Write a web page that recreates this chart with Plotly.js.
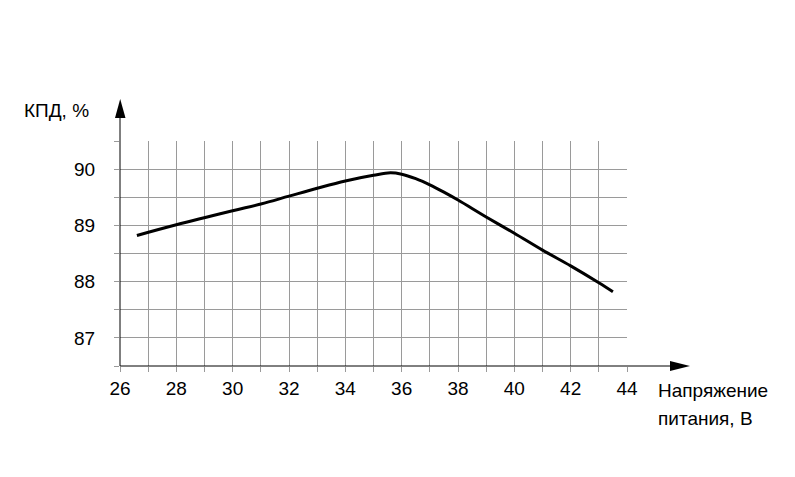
<!DOCTYPE html>
<html><head><meta charset="utf-8">
<script src="https://cdn.plot.ly/plotly-3.0.1.min.js"></script>
<style>body{margin:0;background:#fff}#c{width:795px;height:477px}</style>
</head><body><div id="c"></div>
<script>
const voltage = [26.6, 28, 30, 31, 32, 33, 34, 35, 35.6, 36, 36.5, 37, 37.5, 38, 39, 40, 41, 42, 43, 43.5];
const efficiency = [88.82, 89.01, 89.26, 89.38, 89.52, 89.66, 89.79, 89.89, 89.935, 89.91, 89.83, 89.72, 89.59, 89.45, 89.15, 88.86, 88.56, 88.28, 87.98, 87.82];
const xTicks = [26,27,28,29,30,31,32,33,34,35,36,37,38,39,40,41,42,43,44];
const xTickText = ['26','','28','','30','','32','','34','','36','','38','','40','','42','','44'];
const yTicks = [86.5,87,87.5,88,88.5,89,89.5,90,90.5];
const yTickText = ['','87','','88','','89','','90',''];
const yTitle = 'КПД, %';
const xTitle1 = 'Напряжение';
const xTitle2 = 'питания, В';

const FONT = '"Liberation Sans Narrow", "Arial Narrow", "Liberation Sans", Arial, sans-serif';
const grid = '#9a9a9a';
const L = 120, R = 627, T = 141, B = 366;
const W = R - L, H = B - T;
const px = v => (v - L) / W;
const py = v => (B - v) / H;

const trace = {
  x: voltage, y: efficiency, type: 'scatter', mode: 'lines',
  line: {color: '#000', width: 3, shape: 'spline', smoothing: 1},
  hoverinfo: 'skip'
};

const layout = {
  width: 795, height: 477,
  margin: {l: L, r: 795 - R, t: T, b: 477 - B, pad: 0},
  paper_bgcolor: '#fff', plot_bgcolor: '#fff',
  showlegend: false,
  font: {family: FONT, size: 19, color: '#000'},
  xaxis: {
    range: [26, 44], tickmode: 'array', tickvals: xTicks, ticktext: xTickText,
    showgrid: true, gridcolor: grid, gridwidth: 1, zeroline: false, showline: false,
    ticks: 'outside', ticklen: 5, tickcolor: grid, tickwidth: 1,
    tickfont: {family: FONT, size: 19, color: '#000'}, fixedrange: true
  },
  yaxis: {
    range: [86.5, 90.5], tickmode: 'array', tickvals: yTicks, ticktext: yTickText,
    showgrid: true, gridcolor: grid, gridwidth: 1, zeroline: false, showline: false,
    ticks: 'outside', ticklen: 5, tickcolor: grid, tickwidth: 1, ticklabelstandoff: 15,
    tickfont: {family: FONT, size: 19, color: '#000'}, fixedrange: true
  },
  shapes: [
    {type: 'line', xref: 'paper', yref: 'paper', x0: 0, x1: 0, y0: 0, y1: py(115), line: {color: '#000', width: 1}},
    {type: 'path', xref: 'paper', yref: 'paper', path: `M ${px(115)} ${py(118)} L ${px(125.5)} ${py(118)} L ${px(120.2)} ${py(99)} Z`, fillcolor: '#000', line: {width: 0}},
    {type: 'line', xref: 'paper', yref: 'paper', x0: 0, x1: px(675), y0: 0, y1: 0, line: {color: '#000', width: 1}},
    {type: 'path', xref: 'paper', yref: 'paper', path: `M ${px(670)} ${py(361)} L ${px(670)} ${py(371)} L ${px(690)} ${py(366)} Z`, fillcolor: '#000', line: {width: 0}}
  ],
  annotations: [
    {text: yTitle, xref: 'paper', yref: 'paper', x: px(91), y: py(110), xanchor: 'right', yanchor: 'middle', showarrow: false, font: {family: FONT, size: 19, color: '#000'}},
    {text: xTitle1, xref: 'paper', yref: 'paper', x: px(656), y: py(390), xanchor: 'left', yanchor: 'middle', showarrow: false, font: {family: FONT, size: 19, color: '#000'}},
    {text: xTitle2, xref: 'paper', yref: 'paper', x: px(656), y: py(418), xanchor: 'left', yanchor: 'middle', showarrow: false, font: {family: FONT, size: 19, color: '#000'}}
  ]
};

Plotly.newPlot('c', [trace], layout, {displayModeBar: false, staticPlot: true});
</script></body></html>
